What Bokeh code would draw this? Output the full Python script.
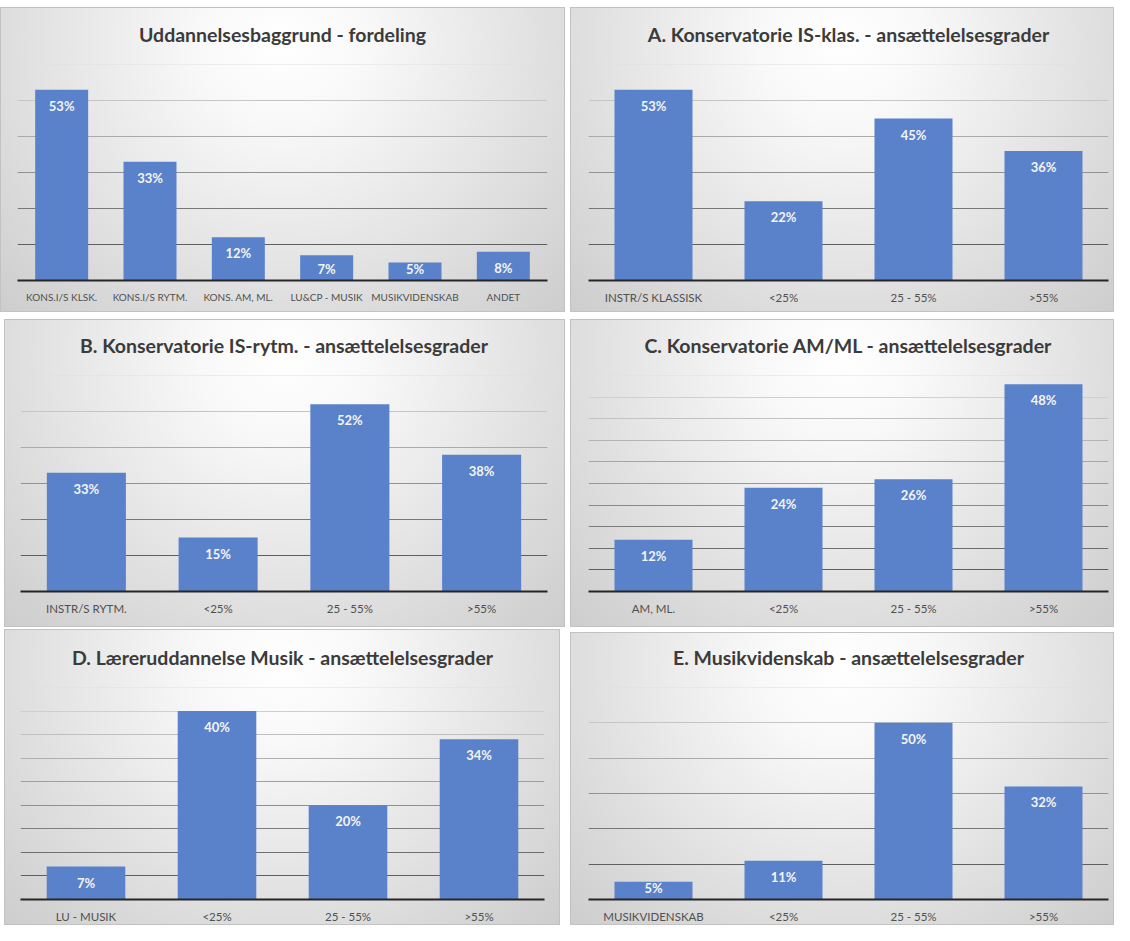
from bokeh.plotting import figure
from bokeh.layouts import column, row
from bokeh.models import FactorRange, Range1d, ColumnDataSource
from bokeh.core.properties import value
from bokeh.embed import file_html
from bokeh.resources import INLINE

# ---- data ----
title_0 = "Uddannelsesbaggrund - fordeling"
cats_0 = ["KONS.I/S KLSK.", "KONS.I/S RYTM.", "KONS. AM, ML.", "LU&CP - MUSIK", "MUSIKVIDENSKAB", "ANDET"]
vals_0 = [53, 33, 12, 7, 5, 8]

title_a = "A. Konservatorie IS-klas. - ansættelelsesgrader"
cats_a = ["INSTR/S KLASSISK", "<25%", "25 - 55%", ">55%"]
vals_a = [53, 22, 45, 36]

title_b = "B. Konservatorie IS-rytm. - ansættelelsesgrader"
cats_b = ["INSTR/S RYTM.", "<25%", "25 - 55%", ">55%"]
vals_b = [33, 15, 52, 38]

title_c = "C. Konservatorie AM/ML - ansættelelsesgrader"
cats_c = ["AM, ML.", "<25%", "25 - 55%", ">55%"]
vals_c = [12, 24, 26, 48]

title_d = "D. Læreruddannelse Musik - ansættelelsesgrader"
cats_d = ["LU - MUSIK", "<25%", "25 - 55%", ">55%"]
vals_d = [7, 40, 20, 34]

title_e = "E. Musikvidenskab - ansættelelsesgrader"
cats_e = ["MUSIKVIDENSKAB", "<25%", "25 - 55%", ">55%"]
vals_e = [5, 11, 50, 32]

axis_max = {"0": 60, "a": 60, "b": 60, "c": 50, "d": 45, "e": 60}
axis_step = {"0": 10, "a": 10, "b": 10, "c": 5, "d": 5, "e": 10}

FONT = "Lato"
BAR = "#5a82cb"
EDGE = "#c2c2c2"


def panel(title, cats, vals, ymax, step, pw, ph, bl, bt, left, right, top, bottom,
          label_size="11.5px"):
    # bl / bt: white band (gap) to the left / above the panel box, inside the figure
    w, h = pw + bl, ph + bt
    p = figure(width=w, height=h, x_range=FactorRange(factors=cats, range_padding=0),
               y_range=Range1d(0, ymax), y_axis_location=None,
               output_backend="svg", toolbar_location=None,
               min_border_left=left + bl, min_border_right=right,
               min_border_top=top + bt, min_border_bottom=bottom)
    p.border_fill_color = None
    p.background_fill_color = None
    p.outline_line_color = None
    line = f"linear-gradient({EDGE},{EDGE})"
    bg = ", ".join([
        f"{line} left {bl}px top {bt}px / {pw}px 1px no-repeat",
        f"{line} left {bl}px bottom 0px / {pw}px 1px no-repeat",
        f"{line} left {bl}px top {bt}px / 1px {ph}px no-repeat",
        f"{line} right 0px top {bt}px / 1px {ph}px no-repeat",
        "radial-gradient(ellipse farthest-corner at 50% 12%, #ffffff 0%, #f8f8f8 22%, #cdcdcd 100%) "
        f"left {bl}px top {bt}px / {pw}px {ph}px no-repeat",
    ])
    p.styles = {"background": bg}
    p.title.text = title
    p.title.align = "center"
    p.title.vertical_align = "top"
    p.title.text_font = FONT
    p.title.text_font_style = "bold"
    p.title.text_font_size = "19.5px"
    p.title.text_color = "#3b3b3b"
    p.title.standoff = 34

    p.xgrid.visible = False
    p.ygrid.visible = False
    ticks = list(range(step, ymax + 1, step))
    n = len(ticks)
    cols = []
    for i in range(n):
        t = i / (n - 1) if n > 1 else 1
        g = int(95 + t * 128)
        cols.append("#%02x%02x%02x" % (g, g, g))
    p.hspan(y=ticks, line_color=cols, line_width=1.2)

    frame_h = ph - top - bottom
    offs = [min(16.0, v * frame_h / ymax - 12.0) for v in vals]
    src = ColumnDataSource(dict(x=cats, top=vals, lab=[f"{v}%" for v in vals], off=offs))
    p.vbar(x="x", top="top", width=0.6, source=src, fill_color=BAR, line_color=None)
    p.text(x="x", y="top", text="lab", source=src, text_align="center", text_baseline="middle",
           y_offset="off", text_color="#f4f4f4", text_font=value(FONT), text_font_style="bold",
           text_font_size="13px")

    ax = p.xaxis[0]
    ax.axis_line_color = "#262626"
    ax.axis_line_width = 2
    ax.major_tick_line_color = None
    ax.minor_tick_line_color = None
    ax.major_tick_out = 0
    ax.major_tick_in = 0
    ax.axis_label_standoff = 0
    ax.major_label_standoff = 10
    ax.major_label_text_font = FONT
    ax.major_label_text_font_size = label_size
    ax.major_label_text_color = "#505050"
    p.toolbar.logo = None
    return p


p0 = panel(title_0, cats_0, vals_0, axis_max["0"], axis_step["0"], 565, 305, 0, 7, 17, 18, 55, 30, "10px")
pa = panel(title_a, cats_a, vals_a, axis_max["a"], axis_step["a"], 544, 305, 5, 7, 18, 6, 57, 32)
pb = panel(title_b, cats_b, vals_b, axis_max["b"], axis_step["b"], 561, 308, 4, 7, 16, 18, 55, 36)
pc = panel(title_c, cats_c, vals_c, axis_max["c"], axis_step["c"], 544, 308, 5, 7, 18, 6, 56, 36)
pd = panel(title_d, cats_d, vals_d, axis_max["d"], axis_step["d"], 556, 296, 4, 2, 16, 16, 55, 25)
pe = panel(title_e, cats_e, vals_e, axis_max["e"], axis_step["e"], 544, 293, 10, 5, 18, 6, 55, 23)

layout = column(
    row(p0, pa),
    row(pb, pc),
    row(pd, pe),
)

open("out.html", "w").write(file_html(layout, INLINE))
